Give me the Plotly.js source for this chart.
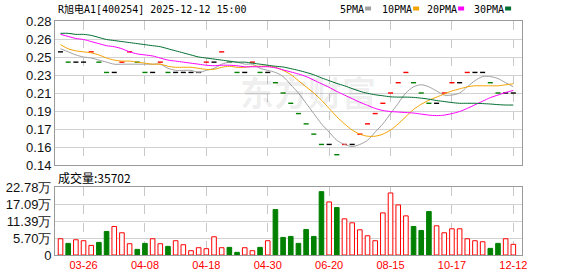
<!DOCTYPE html>
<html><head><meta charset="utf-8">
<script src="https://cdn.plot.ly/plotly-3.0.1.min.js"></script>
<style>html,body{margin:0;padding:0;background:#fff}#chart{width:578px;height:276px}</style>
</head><body><div id="chart"></div>
<script>
// ---- data ----
const tickIdx = [3, 11, 19, 27, 35, 43, 51, 59];
const tickDates = ["03-26", "04-08", "04-18", "04-30", "06-20", "08-15", "10-17", "12-12"];
const closes = [0.25,0.24,0.24,0.24,0.25,0.24,0.23,0.23,0.24,0.25,
  0.24,0.23,0.23,0.24,0.23,0.23,0.23,0.23,0.23,0.24,
  0.24,0.25,0.24,0.23,0.23,0.24,0.23,0.23,0.22,0.21,
  0.20,0.19,0.18,0.17,0.16,0.16,0.15,0.16,0.16,0.17,
  0.18,0.19,0.20,0.21,0.22,0.23,0.22,0.21,0.20,0.20,
  0.21,0.22,0.22,0.23,0.23,0.23,0.22,0.21,0.21,0.21];
const volumesWan = [5.44,3.89,5.11,4.78,3.22,4.22,7.89,9.56,7.44,3.78,
  1.89,3.89,5.44,3.78,2.89,4.78,3.44,1.44,2.44,2.11,
  6.11,2.44,2.56,0.89,2.44,1.44,2.56,4.78,15.22,5.89,
  6.22,3.89,8.56,6.22,21.22,17.78,15.89,12.11,10.78,8.44,
  6.44,4.78,14.11,20.78,16.78,13.11,9.56,8.22,14.56,9.78,
  7.44,8.78,8.78,5.44,4.78,4.44,2.22,3.89,5.44,3.5702];
const ma5 = [.253,.250,.247,.245,.244,.242,.240,.238,.238,.238,
  .238,.238,.238,.238,.234,.232,.232,.232,.230,.232,
  .234,.238,.240,.240,.238,.238,.234,.232,.230,.226,
  .218,.210,.200,.190,.180,.172,.164,.160,.158,.160,
  .164,.172,.180,.190,.200,.210,.216,.218,.216,.212,
  .208,.208,.210,.216,.222,.226,.226,.224,.220,.216];
const ma10 = [.257,.253,.251,.250,.249,.247,.244,.242,.241,.241,
  .240,.239,.238,.238,.236,.235,.235,.235,.234,.233,
  .233,.235,.236,.235,.235,.236,.236,.236,.235,.232,
  .228,.222,.216,.210,.203,.195,.187,.180,.174,.170,
  .168,.168,.170,.174,.180,.187,.194,.199,.203,.206,
  .209,.212,.214,.216,.217,.217,.217,.217,.218,.219];
const ma20 = [.267,.265,.263,.262,.260,.258,.256,.255,.253,.250,
  .248,.247,.246,.244,.242,.241,.240,.239,.238,.237,
  .2365,.237,.237,.2365,.2355,.2355,.2355,.2355,.2345,.2325,
  .2305,.2285,.226,.2225,.219,.2155,.2115,.208,.2045,.201,
  .198,.195,.193,.192,.1915,.191,.1905,.1895,.1885,.188,
  .1885,.190,.192,.195,.1985,.202,.2055,.208,.2105,.2125];
const ma30 = [.268,.268,.267,.267,.266,.264,.262,.261,.260,.259,
  .258,.257,.256,.255,.253,.251,.249,.247,.245,.244,
  .243,.242,.241,.240,.240,.239,.238,.237,.236,.2353,
  .2337,.232,.230,.2277,.2247,.222,.2193,.217,.2143,.2117,
  .2097,.2083,.2073,.2063,.206,.206,.2057,.205,.204,.2027,
  .2017,.2007,.200,.200,.200,.1997,.1993,.1987,.1983,.1983];
const priceTickVals = [0.14,0.1575,0.175,0.1925,0.21,0.2275,0.245,0.2625,0.28];
const priceTickText = ["0.14","0.16","0.17","0.19","0.21","0.23","0.25","0.26","0.28"];
const volTickVals = [0, 5.695, 11.39, 17.085, 22.78];
const volTickText = ["0","5.70万","11.39万","17.09万","22.78万"];
const maNames = ["5PMA","10PMA","20PMA","30PMA"];

// ---- styling ----
const W = 578, H = 276, ML = 55, MR = 56;
const RED = "#ff0000", GREEN = "#008000", BLACK = "#000000";
const maColors = ["#a0a0a0", "#f5a300", "#ff00ff", "#006e30"];
const idx = closes.map((_, i) => i);
const dir = closes.map((c, i) => i === 0 ? 0 : Math.sign(Math.round((c - closes[i-1]) * 1000)));
const candleColors = dir.map(d => d > 0 ? RED : d < 0 ? GREEN : BLACK);
const volFill = dir.map(d => d < 0 ? GREEN : "#ffffff");
const volLine = dir.map(d => d < 0 ? GREEN : RED);

const px = x => (x - ML) / (W - ML - MR);
const py = y => 1 - y / H;

const traces = [
  {type: "scatter", mode: "markers", x: idx, y: closes, xaxis: "x", yaxis: "y",
   marker: {symbol: "line-ew", size: 3.6, color: candleColors, line: {width: 1.4, color: candleColors}},
   hoverinfo: "skip"},
  ...[ma5, ma10, ma20, ma30].map((m, k) => ({
    type: "scatter", mode: "lines", x: idx, y: m, xaxis: "x", yaxis: "y",
    line: {color: maColors[k], width: 1, shape: "spline", smoothing: 0.8}, hoverinfo: "skip"})),
  {type: "bar", x: idx, y: volumesWan, xaxis: "x2", yaxis: "y2", width: 0.6,
   marker: {color: volFill, line: {color: volLine, width: 1}}, hoverinfo: "skip"}
];

const axisFont = {family: "Liberation Sans, Arial, sans-serif", size: 13, color: "#111"};
const xCommon = {range: [-0.72, 60.13], tickvals: tickIdx, showgrid: true, griddash: "dash",
  gridcolor: "#c8c8c8", gridwidth: 1, zeroline: false, showline: true, mirror: true,
  linecolor: "#9a9a9a", linewidth: 1, ticks: "", fixedrange: true};

const shapes = [];
const annotations = [
  {xref: "paper", yref: "paper", x: px(56), y: py(9), xanchor: "left", yanchor: "middle",
   text: "R旭电A1[400254] 2025-12-12 15:00", showarrow: false,
   font: {family: "DejaVu Sans Mono, Noto Sans CJK SC", size: 10, color: "#000"}},
  {xref: "paper", yref: "paper", x: px(56), y: py(177), xanchor: "left", yanchor: "middle",
   text: "成交量:35702", showarrow: false,
   font: {family: "Noto Sans CJK SC, sans-serif", size: 12, color: "#000"}},
  {xref: "paper", yref: "paper", x: px(308), y: py(92), xanchor: "center", yanchor: "middle",
   text: "<b>东方财富</b>", showarrow: false,
   font: {family: "Noto Sans CJK SC, sans-serif", size: 34, color: "rgba(0,0,0,0.07)"}}
];
const legendX = [338, 380, 425, 472];
maNames.forEach((n, k) => {
  const x0 = legendX[k];
  const tw = n.length * 6.02;
  annotations.push({xref: "paper", yref: "paper", x: px(x0), y: py(9), xanchor: "left", yanchor: "middle",
    text: n, showarrow: false, font: {family: "DejaVu Sans Mono", size: 10, color: "#000"}});
  shapes.push({type: "rect", xref: "paper", yref: "paper", x0: px(x0 + tw + 3), x1: px(x0 + tw + 9),
    y0: py(10.5), y1: py(6.5), fillcolor: maColors[k], line: {width: 0}, layer: "above"});
});

const layout = {
  width: W, height: H, margin: {l: ML, r: MR, t: 0, b: 0},
  paper_bgcolor: "#fff", plot_bgcolor: "#fff", showlegend: false, bargap: 0,
  xaxis: Object.assign({}, xCommon, {anchor: "y", showticklabels: false}),
  xaxis2: Object.assign({}, xCommon, {anchor: "y2", ticktext: tickDates,
    tickfont: {family: "Liberation Sans, Arial, sans-serif", size: 11, color: RED}}),
  yaxis: {domain: [py(165), py(21)], range: [0.14, 0.28], tickvals: priceTickVals, ticktext: priceTickText,
    showgrid: true, gridcolor: "#d2d2d2", zeroline: false, showline: true, mirror: true,
    linecolor: "#9a9a9a", ticks: "", tickfont: axisFont, fixedrange: true},
  yaxis2: {domain: [py(255), py(187)], range: [0, 22.78], tickvals: volTickVals, ticktext: volTickText,
    showgrid: true, gridcolor: "#d2d2d2", zeroline: false, showline: true, mirror: true,
    linecolor: "#9a9a9a", ticks: "", tickfont: axisFont, fixedrange: true},
  shapes: shapes, annotations: annotations
};
Plotly.newPlot("chart", traces, layout, {staticPlot: true, displayModeBar: false});
</script></body></html>
